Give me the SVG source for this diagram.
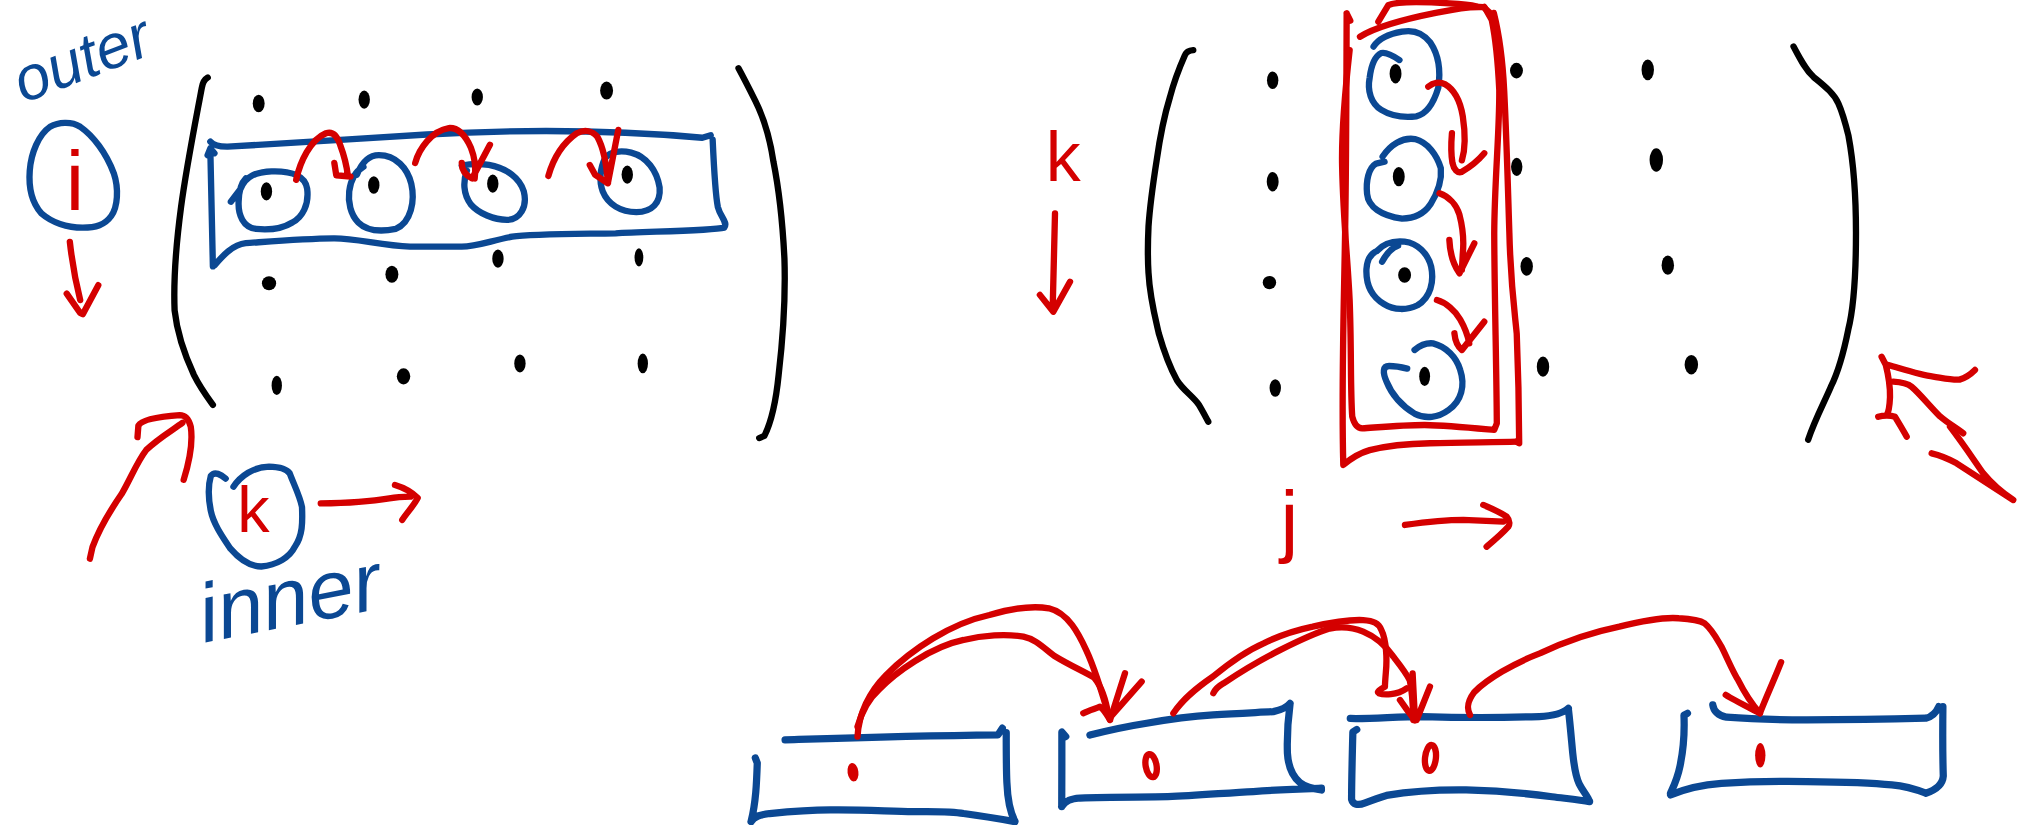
<svg xmlns="http://www.w3.org/2000/svg" width="2028" height="825" viewBox="0 0 2028 825">
<style>
.s{fill:none;stroke-linecap:round;stroke-linejoin:round;stroke-width:4.9}
.bk{stroke:#000}
.bl{stroke:#0b4893}
.rd{stroke:#d40000}
.lb{stroke-width:5.6}
.dot{fill:#000}
.rf{fill:#d40000}
.t{font-family:"Liberation Sans",Arial,sans-serif}
.tb{fill:#0b4893;font-style:italic}
.tr{fill:#d40000}
</style>
<rect width="2028" height="825" fill="#fff"/>
<g transform="scale(1.29337)">

<g id="outer-label">
<text class="t tb" x="18" y="80" font-size="48" transform="rotate(-21 18 80)">outer</text>
</g>

<g id="i-node">
<path class="s bl" d="M38.7,98 C45,94.5 55,93.5 62,98 C72,105 82,118 88,134 C92,146 91,160 86,167 C81,174 74,176 64,176 C52,176 40,172 32,165 C25,157 22,145 23,132 C24,118 30,104 38.7,98 Z"/>
<text class="t tr" x="58" y="162" font-size="64" text-anchor="middle">i</text>
</g>

<g id="k-node">
<path class="s bl" d="M180.5,376.3 C186,368 196,361 208,360.8 C216,361 222,363 224,366 C227,374 232,384 233.5,392 C234,404 234,414 228,422.7 C224,431 214,437 202,438 C192,438 184,431 178,424 C172,415 165,405 163,395 C161,385 161,375 163,368 C166,364 171,367 174.5,370"/>
<text class="t tr" x="196" y="411" font-size="50" text-anchor="middle">k</text>
</g>

<g id="inner-label">
<text class="t tb" x="158" y="497" font-size="64" transform="rotate(-11 158 497)">inner</text>
</g>

<g id="left-matrix">
<path class="s bk" d="M160.6,60 Q157,62 156,68 C150,100 144,130 140,160 C136,190 134,215 135,240 C137,258 143,275 150,290 C155,300 161,308 164.6,313"/>
<path class="s bk" d="M571,52.8 C576,62 580,70 584,78 C590,90 595,105 598,125 C603,150 605,170 606.5,200 C607.5,230 605.5,260 602,290 C600,310 597,325 591,337 L587,338.7"/>
<ellipse class="dot" cx="200" cy="80" rx="4.6" ry="6.8"/>
<ellipse class="dot" cx="281.6" cy="77" rx="4.4" ry="7"/>
<ellipse class="dot" cx="369" cy="75" rx="4.4" ry="6.6"/>
<ellipse class="dot" cx="469" cy="70" rx="5" ry="7"/>
<ellipse class="dot" cx="206" cy="148" rx="4.4" ry="7"/>
<ellipse class="dot" cx="289" cy="143" rx="4.4" ry="6.8"/>
<ellipse class="dot" cx="381" cy="142" rx="4.4" ry="7"/>
<ellipse class="dot" cx="485" cy="135" rx="4.4" ry="7"/>
<ellipse class="dot" cx="208" cy="219" rx="5.5" ry="5.5"/>
<ellipse class="dot" cx="303" cy="212" rx="5" ry="6.6"/>
<ellipse class="dot" cx="385" cy="200" rx="4.4" ry="7"/>
<ellipse class="dot" cx="494" cy="199" rx="3.4" ry="7"/>
<ellipse class="dot" cx="214" cy="298" rx="4" ry="7.5"/>
<ellipse class="dot" cx="312" cy="291" rx="5.2" ry="6.2"/>
<ellipse class="dot" cx="402" cy="281" rx="4.4" ry="7"/>
<ellipse class="dot" cx="497" cy="281" rx="4" ry="7.6"/>
<path class="s bl" d="M162.6,109.5 Q166,113.5 176,113.4 C220,111 280,107 330,104 C400,100 470,100 543,106.5 L549.5,104.5 M551,108 C552,130 553,150 555,160 C557,168 563,172 560,176 C550,178.5 500,179 476,180.4 C440,181 410,181 396,183 C380,186 368,190.7 357,190.7 L317,190.7 C295,190 275,184 257.8,184.3 C235,184.5 205,187 190,188 C180,189 172,198 166,205 M164.6,206 L162.6,115 M160.5,120 L162.6,114.7 L165.8,118.5"/>
<path class="s bl" d="M178.5,156 L186,146 C190,136 198,133 210,132.5 C225,132 236,136 237.5,146 C239,158 234,168 226,172 C218,177 208,178 198,177 C188,176 184,166 184.5,156 C184.7,148 186,142 190,138"/>
<path class="s bl" d="M276,135 C280,125 286,120 293,120 C306,120 315,130 318,142 C321,155 318,172 306,177 C296,179 284,179 277,172 C271,166 269,156 270,148 C271,140 274,133 281,129"/>
<path class="s bl" d="M357,128 C362,127 368,126 378,127.5 C392,130 402,138 405,148 C408,160 402,170 392,170 C382,170 370,165 364,158 C358,150 358,140 361,132"/>
<path class="s bl" d="M468,122 C472,117 480,116 488,118 C500,121 508,132 510,145 C511,157 504,164 492,164 C480,164 470,158 466,148 C463,140 464,130 468,122"/>
</g>

<g id="k-axis">
<text class="t tr" x="822" y="140" font-size="54" text-anchor="middle">k</text>
</g>

<g id="j-axis">
<text class="t tr" x="997" y="423" font-size="62" text-anchor="middle">j</text>
</g>

<g id="right-matrix">
<path class="s bk" d="M922.6,38.7 C919,39 917,40.5 916.2,42.5 C912,52 908,62 904.6,75 C900,90 897,105 894.3,124 C891,145 889,160 888,175 C887.3,190 887.3,200 888,211 C889,230 893,245 896,258 C900,272 905,285 910,294 C915,302 922,306 927,313 C930,318 932,322 934.2,326"/>
<path class="s bk" d="M1386.7,36 C1392,46 1396,54 1402,59.3 C1410,66 1418,72 1421.4,80 C1425,88 1427,96 1429.2,105 C1432,120 1435,140 1435,180 C1435,210 1434,235 1429,255 C1425,275 1420,290 1415.6,299 C1410,312 1403,325 1398,340"/>
<ellipse class="dot" cx="984" cy="62" rx="4.4" ry="6.8"/>
<ellipse class="dot" cx="984" cy="140.5" rx="4.6" ry="7.5"/>
<ellipse class="dot" cx="981.5" cy="218.5" rx="5.2" ry="5.2"/>
<ellipse class="dot" cx="986" cy="300" rx="4.4" ry="6.8"/>
<ellipse class="dot" cx="1079" cy="57" rx="4.6" ry="7.5"/>
<ellipse class="dot" cx="1081.5" cy="136.6" rx="4.6" ry="7.5"/>
<ellipse class="dot" cx="1086" cy="212.6" rx="5" ry="6"/>
<ellipse class="dot" cx="1101.5" cy="291" rx="4.2" ry="7.5"/>
<ellipse class="dot" cx="1172.5" cy="54.6" rx="5" ry="6"/>
<ellipse class="dot" cx="1172.7" cy="129" rx="4.4" ry="7"/>
<ellipse class="dot" cx="1180.4" cy="206" rx="4.8" ry="7.2"/>
<ellipse class="dot" cx="1193" cy="283.5" rx="4.8" ry="7.8"/>
<ellipse class="dot" cx="1274" cy="54" rx="4.8" ry="8"/>
<ellipse class="dot" cx="1280.6" cy="123.7" rx="5.2" ry="9"/>
<ellipse class="dot" cx="1289.5" cy="205" rx="4.8" ry="7.5"/>
<ellipse class="dot" cx="1307.7" cy="282" rx="5.2" ry="7.5"/>
<path class="s rd" d="M1041.2,10.3 L1044,16 M1041.2,10.3 C1041,60 1041,120 1040,180 C1039,240 1037,300 1038.6,359.5 C1045,354 1052,350 1059,348 C1075,344 1090,343 1105.6,342.7 C1130,342 1155,342 1172.6,341.5"/>
<path class="s rd" d="M1043.5,38.7 C1040,70 1037,100 1037.7,128.9 C1038.5,170 1042,200 1043.5,231.9 C1045,270 1044,300 1045.5,322 C1047,328 1050,331 1053.2,331.2 C1070,330 1085,328.6 1101.4,328.6 C1120,329 1140,331 1155.3,332.4 L1157.3,327.3 C1157,280 1155.5,230 1155.3,180.4 C1155.5,140 1159.5,100 1159.2,69.6 C1158,45 1156,28 1153.4,15.5 L1147.6,5.2"/>
<path class="s rd" d="M1051.5,28.4 C1065,20 1090,14 1110,10 C1125,7 1135,5 1147,5.5 L1152,10"/>
<path class="s rd" d="M1065.7,16.8 L1073.4,4 C1080,1 1095,1 1121,2.6 C1130,3 1138,4 1142,5"/>
<path class="s rd" d="M1155,10 C1160,30 1162,50 1163,70 C1165,110 1166,150 1167,180 C1168,220 1171,240 1172.7,258 C1174,290 1174.5,320 1174.6,342.7 L1172.6,341.5"/>
<path class="s bl" d="M1082,46.4 C1077,43 1072,40 1068,41 C1062,44 1060,52 1059,60 C1057,70 1060,80 1068,85 C1076,90 1086,91 1095,90 C1104,88 1109,78 1112,68 C1114,55 1112,42 1106,33 C1100,25 1092,23 1084,24.5 C1075,26 1066,30 1062,36"/>
<path class="s bl" d="M1070.5,125 L1064,126.5 C1058,130 1056,140 1057,150 C1058,160 1068,167 1084,169 C1096,169 1102,164 1106,158 C1111,150 1115,140 1114,130 C1111,120 1104,110 1094,107.5 C1084,106 1075,112 1069,121"/>
<path class="s bl" d="M1068.6,202.3 C1072,196 1077,191 1081,190 M1064.7,194 C1070,188 1078,186 1086,186.8 C1096,188 1104,196 1106.5,206 C1109,218 1106,230 1096,236 C1088,240 1078,240 1070,235 C1060,229 1056,220 1056.5,208 C1057,200 1060,196 1064.7,194"/>
<path class="s bl" d="M1093.7,270.6 C1098,267 1103,265 1108,265.5 C1118,268 1126,276 1129,286 C1133,298 1130,310 1120,317 C1112,323 1102,324 1094,320 C1084,314 1076,305 1072,295 C1069,288 1069,283 1074,283 C1080,283 1084,284 1088,285"/>
</g>

<g id="list-node-1">
<path class="s bl lb" d="M607,572 C640,571 700,569 771.6,568.2 L775,563 M778,566.5 C778,580 778,595 778.5,605 C779,618 781,628 784.7,635 M580.7,635.3 C583,631 588,630 595,629 C615,627 630,626 645,626.2 C670,626 690,627.5 706,627.5 C720,627.5 735,627 745,629 C760,631 772,633 784.7,635.3 M584,586 L585.5,590 C585,605 584.5,620 580.7,635.3"/>
<ellipse class="rf" cx="659.5" cy="597" rx="4.2" ry="7.2" transform="rotate(-8 659.5 597)"/>
</g>

<g id="list-node-2">
<path class="s bl lb" d="M842.7,568.3 C860,564 875,561 886.6,559.2 C905,556 920,554 938,552.8 C955,551.5 970,551 984.5,550.2 C990,549 995,547 997.4,543.8 M997.4,544.5 C996,555 995,570 995.4,582.4 C996,592 999,600 1005,605 C1010,609 1016,610 1021.7,610.8 M820.9,623.6 C824,619 828,617.5 835,617 C860,616 885,616.5 903,616 C925,615 950,613 969,612 C990,610.5 1005,610 1021.7,609.4 M824,569.5 L821,566 C821,585 821,605 820.9,623.6"/>
<ellipse class="s rd" cx="890" cy="592" rx="4.2" ry="9" stroke-width="4" transform="rotate(-10 890 592)"/>
</g>

<g id="list-node-3">
<path class="s bl lb" d="M1044,555.5 C1060,556 1080,554 1100,554 C1130,555 1160,555 1190,554 C1200,553.5 1208,552 1212.6,547.6 M1212.6,548 C1214,560 1215,572 1216,582.4 C1217,592 1218,600 1221,606 C1224,612 1228,616 1229,619.8 M1055,621 C1060,619 1065,617 1072,615 C1090,612 1110,610.5 1133.6,610.8 C1160,611.5 1185,614 1200,616 C1212,617.5 1222,618.5 1229,619.8 M1049,564 L1046,566 C1045.5,585 1045,605 1045,618 C1046,622 1050,623 1055,621"/>
<ellipse class="s rd" cx="1106" cy="586" rx="4.2" ry="10" stroke-width="4.4" transform="rotate(6 1106 586)"/>
</g>

<g id="list-node-4">
<path class="s bl lb" d="M1324.3,545 C1325,550 1328,553 1335,554.5 C1355,556 1375,556.5 1397,556.6 C1430,556.5 1460,556 1489,555.3 C1494,554 1497,551 1499,546.3 M1502.2,546.3 C1502,565 1502,585 1502.5,600 C1502,607 1496,611 1489,613.3 M1291.6,614.6 C1300,611 1312,607 1331,605.6 C1350,604.5 1375,604 1397,604.3 C1420,604.5 1445,605 1462.7,606.9 C1475,608 1483,611 1489,613.3 M1304.7,551.5 L1302,553 C1302.5,565 1301.5,580 1299,592 C1297,602 1294,608 1291.6,613.3"/>
<ellipse class="rf" cx="1361" cy="584" rx="4" ry="9.5"/>
</g>

<g id="connectors">
<path class="s rd" d="M54,187 C56,205 59,220 62,232 M51.6,227 L62,242 L64,243 L76,220.5"/>
<path class="s rd" d="M69.5,432 L71.5,423 C77,408 85,395 94,382 C101,370 106,357 113,348 C121,340 131,334 141,327 M106.3,338 L107,329 C110,324 125,322 139,321 C143,321 146,324 147.5,330 C149,340 147,355 142,371"/>
<path class="s rd" d="M248,389.2 C265,389 285,388 301,385.3 C308,384 313,384 317.3,384 M305.4,375 C312,377 318,380 323,385 C320,391 314,397 311,402"/>
<path class="s rd" d="M229,139 C232,125 240,108 252,103 C258,101 261,106 263,112 C266,120 268,128 269,136 M258.5,126 L260,135.5 L271,136.5"/>
<path class="s rd" d="M321,126 C324,115 334,101 347,99 C355,98.5 360,105 364,114 C368,124 368,131 367,138 M357,126 Q357,134 365,138 L378.8,112"/>
<path class="s rd" d="M424,136 C428,122 436,110 446,103 C452,100 458,101 462,106 C467,115 469,128 470,141 M478,100.5 L470,141.7 M456,127.6 L460,135 L470,141.7"/>
<path class="s rd" d="M815.7,165 L814,234.5 M804,228 L814.4,241 L827.3,217.8"/>
<path class="s rd" d="M1086.3,405.9 C1100,404 1115,402 1131.4,402 L1162.3,403.3 M1146.8,390.4 C1153,393 1160,396 1164.9,399.5 C1168,403 1167,406 1166.2,407.2 C1161,413 1155,418 1149.4,422.7"/>
<path class="s rd" d="M1104.3,67 C1108,64 1113,63 1117,65 C1124,69 1129,78 1131,90 C1133,103 1133,115 1130.3,124 M1122.6,103 C1122,110 1122,120 1123,126 C1124,131 1127,134 1130,133 C1137,129 1143,124 1147.6,118.5"/>
<path class="s rd" d="M1113,149.5 C1120,152 1126,158 1128.4,166 C1131,176 1132,186 1131,196 L1130.3,208.7 M1120.6,185.5 C1121,195 1124,205 1128.4,211.3 L1139.9,188.1"/>
<path class="s rd" d="M1111,232 C1118,234 1125,240 1129,247 C1133,254 1135,260 1136,265.4 M1124.5,257.7 C1125,263 1127,268 1130.3,270.6 L1147.6,248.7"/>
<path class="s rd" d="M1454.8,275.8 L1458,282 C1460,290 1461.5,300 1461.3,307 C1461,314 1460,319 1458.7,321 M1452.2,322.2 C1456,321 1462,321 1465.1,322.2 C1468,327 1471,332 1474.2,337.6 M1460,282.2 C1470,285 1485,290 1494.7,291.2 C1503,292.5 1510,294 1515,293.5 C1520,292 1524,289 1527,286"/>
<path class="s rd" stroke-width="6.2" d="M1463.8,295.1 C1470,295.5 1475,296.5 1478,299 C1484,304 1492,314 1500,322 C1507,328 1513,331 1517.9,335"/>
<path class="s rd" d="M1507.7,329.9 C1517,342 1525,354 1533.4,366 C1540,374 1548,381 1556.6,386.6 M1493.5,350.5 C1500,352 1507,355 1512.8,358.2 C1525,366 1540,376 1556.6,386.6"/>
<path class="s rd" d="M663,569.5 C664,552 672,535 685,522 C705,502 735,482 765,475.5 C780,471 797,468 811,470.3 C826,474 834,490 840,503 C847,518 852,535 858,556"/>
<path class="s rd" d="M663,561.8 C667,548 672,540 679.4,533.4 C692,520 720,500 745,494.8 C760,491 778,490 791.3,492.2 C800,494 806,500 815,507 C828,515 840,520 846,524 C851,530 855,540 857.1,554"/>
<path class="s rd" d="M837.6,551.5 C842,549 847,548 850.5,546.4 C854,549 856,553 858.2,556.7 M869.8,520.6 L858.5,556 M882.7,527 L858,555"/>
<path class="s rd" d="M907.2,551.5 C915,540 925,532 938,523 C950,513 962,504 977,497.4 C990,491 1003,487 1015,484.5 C1030,481 1045,479 1054,479.4 C1062,480 1066,482 1068,487 C1072,495 1072.5,510 1071.5,520 C1071,526 1070.8,529 1070.8,531 C1067,533 1064,535 1066,536 C1070,537.5 1080,537.5 1087.6,532.2"/>
<path class="s rd" d="M938.1,536 C940,532 943,530 946,528.3 C960,519 975,510 990,502.5 C1003,496 1015,490 1028,486 C1038,484 1046,485 1054,488.4 C1065,493 1072,500 1077.3,507.7 C1083,515 1087,520 1090,526 C1092,535 1092.5,545 1092.7,556.7"/>
<path class="s rd" d="M1082.4,541.2 L1088,549 L1094,557 M1105.6,530.9 L1095.3,556.7 M1092.2,520.6 L1094,556"/>
<path class="s rd" d="M1136.6,552.8 C1134,548 1134,543 1140,535 C1150,525 1170,513 1191,505 C1210,496 1230,489 1252,484.5 C1270,480 1287,477 1298,478 C1308,478.5 1315,480 1318,482 C1324,487 1328,495 1331,500 C1336,510 1340,520 1344,526 C1350,538 1356,546 1360.7,551.5"/>
<path class="s rd" d="M1334.3,537.3 C1340,541 1352,547 1360.7,551.5 C1366,538 1372,525 1377.1,512"/>
</g>

</g>
</svg>
